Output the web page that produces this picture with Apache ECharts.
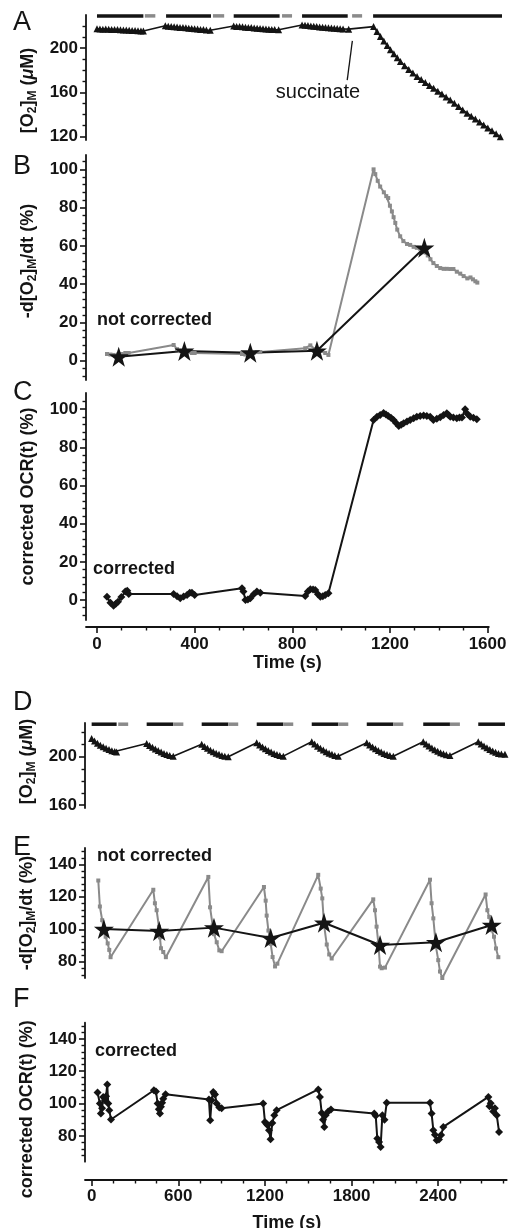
<!DOCTYPE html>
<html>
<head>
<meta charset="utf-8">
<script src="https://cdn.jsdelivr.net/npm/echarts@6/dist/echarts.min.js"></script>
<style>
html, body { margin: 0; padding: 0; background: #fff; }
#main { width: 509px; height: 1228px; }
</style>
</head>
<body>
<div id="main"></div>
<script>
// ---------- panel A : [O2]M vs time (s, uM) ----------
const aTrace = [
  [0,217.6],[12,217.4],[24,217.2],[36,217.3],[48,217.1],[60,217.0],[72,216.8],[84,216.9],[96,216.6],
  [108,216.4],[120,216.5],[132,216.2],[144,216.0],[156,215.9],[168,215.8],[180,215.6],[190,215.5],
  [280,220.2],[292,219.8],[304,219.6],[316,219.3],[328,219.1],[340,218.8],[352,218.6],[364,218.4],
  [376,218.1],[388,217.9],[400,217.6],[412,217.4],[424,217.0],[436,216.8],[448,216.5],[464,216.2],
  [560,220.0],[572,219.7],[584,219.5],[596,219.3],[608,219.0],[620,218.8],[632,218.6],[644,218.3],
  [656,218.1],[668,217.9],[680,217.6],[692,217.4],[704,217.2],[716,217.0],[728,216.8],[744,216.6],
  [840,221.0],[852,220.7],[864,220.4],[876,220.1],[888,219.8],[900,219.5],[912,219.2],[924,219.0],
  [936,218.7],[948,218.5],[960,218.2],[972,218.0],[984,217.8],[996,217.6],[1008,217.4],[1031,217.2],
  [1133,219.5],[1147,215.0],[1161,210.5],[1175,206.5],[1189,202.5],[1202,198.5],[1216,195.0],
  [1230,191.3],[1243,187.9],[1260,184.2],[1277,180.8],[1294,177.5],[1311,174.3],[1328,171.6],
  [1345,168.9],[1362,166.3],[1379,163.8],[1396,161.1],[1413,158.5],[1430,155.8],[1447,153.2],
  [1464,150.2],[1481,147.2],[1498,144.2],[1516,141.2],[1533,138.5],[1550,135.9],[1567,133.2],
  [1584,130.6],[1601,127.9],[1618,125.3],[1635,122.6],[1652,120.0]
];
const aBarOn = [[0,190],[283,467],[560,748],[840,1027],[1131,1659]];
const aBarOff = [[196,239],[475,521],[758,799],[1045,1086]];
const aBarLevel = 229.2;
const aArrow = [[1025,171.2],[1046,206.6]];
const aTicks = [120,160,200];
const aMinor = [130,140,150,170,180,190,210,220];

// ---------- panel B : -d[O2]/dt, not corrected (%) ----------
const bRate = [
  [41,3.5],[55,3.2],[68,3.0],[86,3.2],[100,3.5],[116,4.0],[130,4.0],
  [314,8.2],[328,6.0],[341,5.0],[355,4.5],[369,4.2],[389,4.0],[400,4.0],
  [594,3.5],[608,3.2],[628,3.5],[642,4.0],[655,4.5],[669,4.5],
  [853,6.5],[874,8.0],[894,6.0],[915,5.0],[935,4.0],[948,3.0],
  [1133,100],[1140,97.5],[1150,94],[1160,91],[1175,88],[1185,86],[1193,85],[1200,81],[1208,78],
  [1215,75],[1222,72],[1230,68.5],[1242,65],[1255,62.5],[1270,61],[1283,60.5],[1297,59.5],[1310,59],
  [1324,58.5],[1337,58],[1346,56.5],[1355,55],[1366,53],[1378,51],[1392,49.5],[1406,48.4],[1420,48],
  [1433,48],[1447,47.9],[1460,47.9],[1474,46.5],[1488,45.5],[1502,44.2],[1517,43],[1530,43.5],
  [1540,42.5],[1550,41.5],[1558,40.8]
];
const bStars = [[89,2.1],[358,5.1],[628,4.2],[901,5.2],[1341,59]];
const pctTicks = [0,20,40,60,80,100];
const pctMinor = [-8,-4,4,8,12,16,24,28,32,36,44,48,52,56,64,68,72,76,84,88,92,96,104];

// ---------- panel C : corrected OCR (%) ----------
const cOcr = [
  [41,1.7],[55,-1.5],[68,-3],[77,-2],[86,-0.9],[100,1.5],[116,4.4],[124,4.8],[130,3.1],
  [314,3.1],[328,2],[341,0.9],[355,1.8],[369,2.6],[380,3.8],[389,3.8],[400,2.6],
  [594,6.1],[600,4.5],[608,0],[618,0.2],[628,0.9],[642,3],[655,4.4],[669,3.8],
  [853,2.1],[864,4.5],[874,5.6],[885,5.5],[894,5.2],[905,3],[915,1.7],[925,2],[935,2.6],[948,3.5],
  [1133,94.4],[1147,96],[1160,97],[1174,98],[1184,97.2],[1193,96.5],[1204,95.5],[1215,94.4],
  [1225,92.8],[1236,91.2],[1246,91.8],[1256,92.6],[1270,93.5],[1283,94.4],[1297,95.3],[1310,96.1],
  [1324,96.5],[1338,96.7],[1351,96.5],[1365,96.1],[1378,94.4],[1392,95],[1406,95.8],[1420,97],
  [1433,97.9],[1440,97],[1447,96.1],[1460,95.6],[1474,95.3],[1485,95.6],[1495,95.6],[1508,100],
  [1518,97.5],[1529,96.1],[1542,95.5],[1556,94.7]
];
const xTicksTop = [0,400,800,1200,1600];
const xMinorTop = [100,200,300,500,600,700,900,1000,1100,1300,1400,1500];

// ---------- panel D : [O2]M, repeated cycles ----------
const dTrace = [
  [0,215.2],[20,213],[40,211.2],[60,209.6],[80,208.2],[100,207],[120,206],[140,205],[160,204.4],[173,204],
  [381,211],[401,209.4],[421,207.8],[441,206.4],[461,205.1],[481,203.9],[501,202.8],[521,201.9],[541,201.1],[565,200.5],
  [762,210.3],[782,208.6],[802,207],[822,205.5],[842,204.2],[862,203],[882,202],[902,201.1],[922,200.5],[946,200],
  [1143,211.6],[1163,209.8],[1183,208.1],[1203,206.6],[1223,205.2],[1243,203.9],[1263,202.8],[1283,201.8],[1303,201],[1327,200.5],
  [1524,212.4],[1544,210.5],[1564,208.7],[1584,207.1],[1604,205.6],[1624,204.2],[1644,203],[1664,202],[1684,201.1],[1708,200.5],
  [1905,211.6],[1925,209.8],[1945,208.1],[1965,206.6],[1985,205.2],[2005,203.9],[2025,202.8],[2045,201.8],[2065,201],[2089,200.5],
  [2296,212.4],[2316,210.6],[2336,208.9],[2356,207.3],[2376,205.9],[2396,204.6],[2416,203.4],[2436,202.4],[2456,201.6],[2481,201],
  [2677,212.4],[2697,210.6],[2717,209],[2737,207.5],[2757,206.1],[2777,204.8],[2797,203.7],[2817,202.8],[2837,202.3],[2862,202]
];
const dBarOn = [[0,173],[381,565],[762,946],[1143,1327],[1524,1708],[1905,2089],[2296,2481],[2677,2862]];
const dBarOff = [[184,253],[565,635],[946,1015],[1327,1396],[1708,1777],[2089,2158],[2481,2550]];
const dBarLevel = 227;
const dTicks = [160,200];
const dMinor = [170,180,190,210,220];

// ---------- panel E : -d[O2]/dt, not corrected ----------
const eRate = [
  [46,130],[57,114],[73,105.6],[85,99.5],[97,95.4],[111,91.3],[122,87.3],[131,82.8],
  [427,124.3],[438,116],[450,111.7],[466,101.5],[473,95],[480,88.3],[496,86],[514,82.8],
  [808,132.2],[820,113.5],[838,102.3],[847,97],[866,92],[884,87],[900,86.5],
  [1193,126],[1205,117.6],[1212,108.4],[1224,99.2],[1240,91],[1253,82.9],[1270,77.1],[1286,78.8],
  [1569,133.5],[1586,125],[1597,119],[1609,102.9],[1628,90.6],[1645,84.5],[1662,82],
  [1950,118.4],[1962,111.7],[1973,101.6],[1985,91.4],[1997,77],[2008,76],[2031,76.4],
  [2343,130.5],[2354,116],[2366,106.7],[2384,89.3],[2400,81],[2412,74],[2428,70],
  [2728,121.4],[2740,111.7],[2753,107.6],[2770,99.4],[2786,95.4],[2800,88.2],[2816,82.8]
];
const eStars = [[85,100.1],[468,98.9],[847,101],[1240,94.6],[1609,104],[1997,90.3],[2384,92],[2770,102.6]];
const efTicks = [80,100,120,140];
const efMinor = [68,72,76,84,88,92,96,104,108,112,116,124,128,132,136,144,148];

// ---------- panel F : corrected OCR ----------
const fOcr = [
  [41,106.8],[57,100],[64,93.8],[72,97],[80,104],[92,102],[100,104.5],[108,111.8],[115,100],[122,95.9],[134,90.1],
  [431,108.2],[445,107.5],[457,100],[465,96.5],[473,93.8],[480,98],[488,100.5],[496,103],[512,105.8],
  [812,102.5],[821,89.7],[831,102],[842,107.2],[848,106],[854,105.5],[866,100],[884,97.5],[900,97],
  [1188,100],[1200,88.6],[1210,87.5],[1219,86.5],[1228,83.5],[1239,77.9],[1251,88],[1265,92.8],[1281,95.9],
  [1569,108.7],[1581,104],[1593,94.2],[1602,90],[1611,85.5],[1620,92.8],[1638,95],[1657,96.3],
  [1957,93.8],[1967,92.5],[1978,78.3],[1990,76.2],[2001,73.1],[2013,92.8],[2028,90],[2043,100.4],
  [2343,100.4],[2354,93.8],[2366,83.5],[2377,80.7],[2389,77.3],[2405,77.7],[2420,80.5],[2435,85.5],
  [2747,104.1],[2755,98.3],[2763,100.2],[2781,95.1],[2792,97],[2805,92.8],[2821,82.4]
];
const xTicksBottom = [0,600,1200,1800,2400];
const xMinorBottom = [150,300,450,750,900,1050,1350,1500,1650,1950,2100,2250,2550,2700,2850];

// ---------- styling ----------
const FONT = '"Liberation Sans", Arial, Helvetica, sans-serif';
const INK = '#141414';
const GREY = '#8a8a8a';
const STAR = 'path://M50 2 L61.8 37.6 L99 37.6 L69 59.6 L80.3 95 L50 73 L19.7 95 L31 59.6 L1 37.6 L38.2 37.6 Z';

const chart = echarts.init(document.getElementById('main'), null, { renderer: 'canvas' });

const grids = [
  { left: 86, top: 15, width: 416, height: 125 },      // A
  { left: 86, top: 155, width: 402.8, height: 225 },   // B
  { left: 86, top: 393, width: 402.8, height: 227 },   // C
  { left: 85, top: 723, width: 421.7, height: 85 },    // D
  { left: 85, top: 848, width: 421.7, height: 130 },   // E
  { left: 85, top: 1022.7, width: 421.7, height: 139 } // F
].map(g => Object.assign({ outerBoundsMode: 'none', containLabel: false }, g));

const nameRich = {
  s: { fontSize: 12, fontWeight: 'bold', fontFamily: FONT, color: INK, verticalAlign: 'bottom', lineHeight: 13 },
  i: { fontSize: 18, fontStyle: 'italic', fontWeight: 'bold', fontFamily: FONT, color: INK, lineHeight: 22 }
};

const plain = v => String(v);

function yPair(grid, min, max, major, minor, name, gap, pad) {
  return [{
    type: 'value', gridIndex: grid, min: min, max: max, position: 'left',
    axisLine: { show: true, onZero: false, lineStyle: { color: INK, width: 1.8 } },
    axisTick: { show: true, customValues: major, length: 6, lineStyle: { color: INK, width: 1.6 } },
    axisLabel: { customValues: major, formatter: plain, fontSize: 17, fontWeight: 'bold', fontFamily: FONT, color: INK, margin: 8 },
    splitLine: { show: false },
    name: name, nameLocation: 'middle', nameRotate: 90, nameGap: gap,
    nameTextStyle: { fontSize: 18, fontWeight: 'bold', fontFamily: FONT, color: INK, lineHeight: 22, padding: pad, rich: nameRich }
  }, {
    type: 'value', gridIndex: grid, min: min, max: max, position: 'left',
    axisLine: { show: false, onZero: false },
    axisTick: { show: true, customValues: minor, length: 3.5, lineStyle: { color: INK, width: 1.4 } },
    axisLabel: { show: false },
    splitLine: { show: false }
  }];
}

function xHidden(grid, min, max) {
  return { type: 'value', gridIndex: grid, min: min, max: max, show: false, axisLine: { onZero: false } };
}

function xPair(grid, min, max, major, minor, offset, labelMargin, nameGap, namePad) {
  return [{
    type: 'value', gridIndex: grid, min: min, max: max, position: 'bottom', offset: offset,
    axisLine: { show: true, onZero: false, lineStyle: { color: INK, width: 1.8 } },
    axisTick: { show: true, customValues: major, length: 6, lineStyle: { color: INK, width: 1.6 } },
    axisLabel: { customValues: major, formatter: plain, fontSize: 17, fontWeight: 'bold', fontFamily: FONT, color: INK, margin: labelMargin },
    splitLine: { show: false },
    name: 'Time (s)', nameLocation: 'middle', nameGap: nameGap,
    nameTextStyle: { fontSize: 18, fontWeight: 'bold', fontFamily: FONT, color: INK, padding: namePad }
  }, {
    type: 'value', gridIndex: grid, min: min, max: max, position: 'bottom', offset: offset,
    axisLine: { show: false, onZero: false },
    axisTick: { show: true, customValues: minor, length: 3.5, lineStyle: { color: INK, width: 1.4 } },
    axisLabel: { show: false },
    splitLine: { show: false }
  }];
}

const O2NAME = '[O{s|2}]{s|M} ({i|μ}M)';
const RATENAME = '-d[O{s|2}]{s|M}/dt (%)';
const OCRNAME = 'corrected OCR(t) (%)';

const xAxes = [
  xHidden(0, -45, 1659),                                              // 0 A
  xHidden(1, -45, 1605),                                              // 1 B
  ...xPair(2, -45, 1605, xTicksTop, xMinorTop, 7, 9, 26, 0),           // 2,3 C
  xHidden(3, -46, 2874),                                              // 4 D
  xHidden(4, -46, 2874),                                              // 5 E
  ...xPair(5, -46, 2874, xTicksBottom, xMinorBottom, 18.3, 8, 34, [0, 18, 0, 0]) // 6,7 F
];

const yAxes = [
  ...yPair(0, 117, 230, aTicks, aMinor, O2NAME, 44, [0, 26, 0, 0]),        // 0,1
  ...yPair(1, -10.1, 107.5, pctTicks, pctMinor, RATENAME, 44, [0, 0, 0, 13]), // 2,3
  ...yPair(2, -10.5, 108.5, pctTicks, pctMinor, OCRNAME, 46, [0, 0, 0, 20]),  // 4,5
  ...yPair(3, 157.5, 228, dTicks, dMinor, O2NAME, 43, [0, 0, 0, 8]),        // 6,7
  ...yPair(4, 70, 150, efTicks, efMinor, RATENAME, 43, 0),                  // 8,9
  ...yPair(5, 64, 150, efTicks, efMinor, OCRNAME, 45, [0, 34, 0, 0])        // 10,11
];

function barSeries(xi, yi, data, color, level) {
  return {
    type: 'custom', xAxisIndex: xi, yAxisIndex: yi, data: data, silent: true,
    encode: { x: [0, 1] },
    renderItem: function (params, api) {
      const p0 = api.coord([api.value(0), level]);
      const p1 = api.coord([api.value(1), level]);
      return { type: 'line', shape: { x1: p0[0], y1: p0[1], x2: p1[0], y2: p1[1] },
        style: { stroke: color, lineWidth: 3.5 } };
    }
  };
}

function lineSeries(xi, yi, data, color, symbol, size, width) {
  return {
    type: 'line', xAxisIndex: xi, yAxisIndex: yi, data: data,
    symbol: symbol, symbolSize: size, showSymbol: true, showAllSymbol: true,
    lineStyle: { color: color, width: width }, itemStyle: { color: color, borderWidth: 0 },
    emphasis: { disabled: true }, silent: true, clip: false
  };
}

const aSeries = lineSeries(0, 0, aTrace, INK, 'triangle', 7, 1.6);
aSeries.markLine = {
  silent: true, symbol: ['none', 'arrow'], symbolSize: [0, 7], animation: false,
  label: { show: false },
  lineStyle: { color: INK, width: 1.3, type: 'solid' },
  data: [[{ coord: aArrow[0] }, { coord: aArrow[1] }]]
};

const series = [
  barSeries(0, 0, aBarOn, INK, aBarLevel),
  barSeries(0, 0, aBarOff, GREY, aBarLevel),
  aSeries,
  lineSeries(1, 2, bRate, GREY, 'rect', 4, 2),
  lineSeries(1, 2, bStars, INK, STAR, 20, 2),
  lineSeries(2, 4, cOcr, INK, 'diamond', 8, 2),
  barSeries(4, 6, dBarOn, INK, dBarLevel),
  barSeries(4, 6, dBarOff, GREY, dBarLevel),
  lineSeries(4, 6, dTrace, INK, 'triangle', 7, 1.6),
  lineSeries(5, 8, eRate, GREY, 'rect', 4, 2),
  lineSeries(5, 8, eStars, INK, STAR, 20, 2),
  lineSeries(6, 10, fOcr, INK, 'diamond', 8, 2)
];

function txt(x, y, text, font, align) {
  return { type: 'text', x: x, y: y, silent: true,
    style: { text: text, font: font, fill: INK, align: align || 'left', verticalAlign: 'middle' } };
}
const LETTER = '27px ' + FONT;
const NOTE = 'bold 18px ' + FONT;

chart.setOption({
  animation: false,
  backgroundColor: '#fff',
  textStyle: { fontFamily: FONT },
  grid: grids,
  xAxis: xAxes,
  yAxis: yAxes,
  series: series,
  graphic: [
    txt(13, 23, 'A', LETTER), txt(13, 167, 'B', LETTER), txt(13, 393, 'C', LETTER),
    txt(13, 703, 'D', LETTER), txt(13, 848, 'E', LETTER), txt(13, 1000, 'F', LETTER),
    txt(97, 320, 'not corrected', NOTE), txt(93, 569, 'corrected', NOTE),
    txt(97, 856, 'not corrected', NOTE), txt(95, 1051, 'corrected', NOTE),
    txt(318, 92, 'succinate', '20px ' + FONT, 'center')
  ]
});
</script>
</body>
</html>
